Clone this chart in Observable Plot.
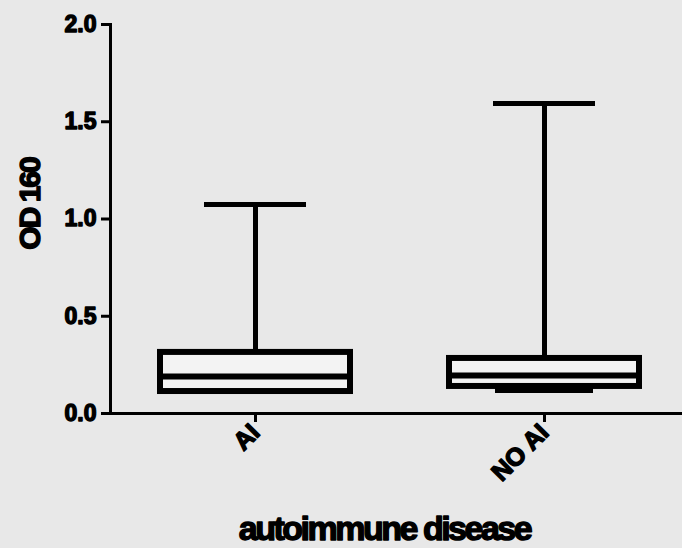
<!DOCTYPE html>
<html>
<head>
<meta charset="utf-8">
<script src="https://cdn.jsdelivr.net/npm/d3@7"></script>
<script src="https://cdn.jsdelivr.net/npm/@observablehq/plot@0.6"></script>
<style>
  html, body { margin: 0; padding: 0; background: #e8e8e8; }
  #chart svg { display: block; background: #e8e8e8; }
</style>
</head>
<body>
<div id="chart"></div>
<script>
const categories = ["AI", "NO AI"];
const minVals = [0.113, 0.118];
const q1Vals = [0.113, 0.139];
const medianVals = [0.19, 0.195];
const q3Vals = [0.314, 0.283];
const maxVals = [1.075, 1.594];
const yTicks = [0, 0.5, 1.0, 1.5, 2.0];
const yLabel = "OD 160";
const xLabel = "autoimmune disease";

const data = categories.map((c, i) => ({
  cat: c, min: minVals[i], q1: q1Vals[i], med: medianVals[i], q3: q3Vals[i], max: maxVals[i]
}));

const font = "Liberation Sans, Arial, sans-serif";

const chart = Plot.plot({
  width: 682,
  height: 548,
  marginLeft: 110,
  marginRight: 0,
  marginTop: 24,
  marginBottom: 135,
  style: { background: "#e8e8e8", fontFamily: font, color: "black" },
  x: { domain: categories, range: [160, 639], paddingInner: 0.343, paddingOuter: 0, label: null },
  y: { domain: [0, 2], label: null },
  marks: [
    Plot.frame({ anchor: "left", strokeWidth: 3, stroke: "black" }),
    Plot.frame({ anchor: "bottom", strokeWidth: 3, stroke: "black" }),
    Plot.axisY({
      ticks: yTicks, tickFormat: d3.format(".1f"), tickSize: 9, tickPadding: 5,
      strokeWidth: 3, fontSize: 23, fontWeight: "bold", fontFamily: font,
      label: null, fill: "black", stroke: "black"
    }),
    Plot.axisX({
      tickSize: 9, tickPadding: 6, tickRotate: -45, textAnchor: "end",
      strokeWidth: 3, fontSize: 25, fontWeight: "bold", fontFamily: font,
      label: null, fill: "black"
    }),
    // whiskers
    Plot.ruleX(data, { x: "cat", y1: "q3", y2: "max", strokeWidth: 5, stroke: "black" }),
    Plot.ruleX(data, { x: "cat", y1: "q1", y2: "min", strokeWidth: 5, stroke: "black" }),
    Plot.tickY(data, { x: "cat", y: "max", insetLeft: 44, insetRight: 44, strokeWidth: 5, stroke: "black" }),
    Plot.tickY(data, { x: "cat", y: "min", insetLeft: 46, insetRight: 46, strokeWidth: 5, stroke: "black" }),
    // box
    Plot.barY(data, { x: "cat", y1: "q1", y2: "q3", fill: "#f3f3f3", stroke: "black", strokeWidth: 6 }),
    Plot.tickY(data, { x: "cat", y: "med", strokeWidth: 6, stroke: "black" }),
    // labels
    Plot.text([yLabel], {
      frameAnchor: "left", textAnchor: "middle", dx: -80, dy: -15, rotate: -90, text: d => d,
      fontSize: 30, fontWeight: "bold", fontFamily: font, fill: "black"
    }),
    Plot.text([xLabel], {
      frameAnchor: "bottom", textAnchor: "middle", dx: -12, dy: 126, text: d => d, lineAnchor: "bottom",
      fontSize: 34, fontWeight: "bold", fontFamily: font, fill: "black"
    })
  ]
});

const svg = d3.select(chart);
svg.selectAll("text")
  .attr("stroke", "black")
  .attr("stroke-width", 1.4)
  .attr("paint-order", "stroke")
  .attr("stroke-linejoin", "round");
svg.selectAll("text").filter(function() { return this.textContent === yLabel; })
  .style("letter-spacing", "-2px");
svg.selectAll("text").filter(function() { return this.textContent === xLabel; })
  .style("letter-spacing", "-2.5px");
document.getElementById("chart").append(chart);
</script>
</body>
</html>
